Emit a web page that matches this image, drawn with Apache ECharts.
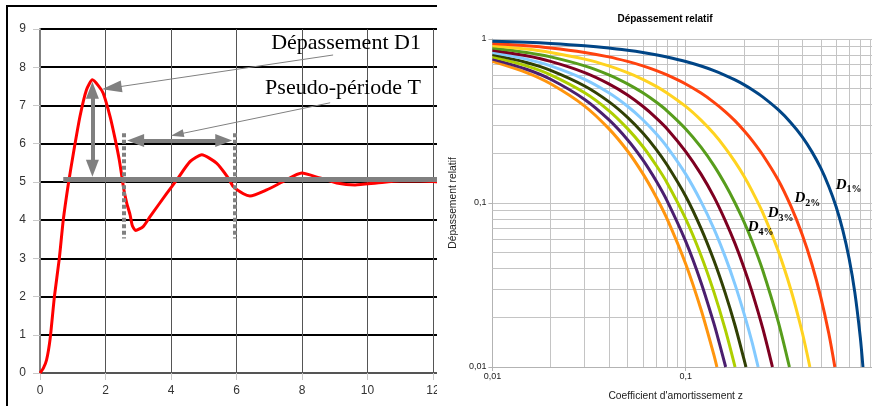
<!DOCTYPE html>
<html><head><meta charset="utf-8">
<script src="https://cdn.jsdelivr.net/npm/echarts@6/dist/echarts.min.js"></script>
<style>
html,body{margin:0;padding:0;background:#fff;width:872px;height:406px;overflow:hidden;position:relative}
#lw{position:absolute;left:0;top:0;width:437px;height:406px;overflow:hidden}
#rw{position:absolute;left:440px;top:0;width:432px;height:406px;overflow:hidden}
#left{width:520px;height:406px}
#right{width:450px;height:406px}
</style></head><body>
<div id="lw"><div id="left"></div></div>
<div id="rw"><div id="right"></div></div>
<script>
// ---------- Left chart data (step response) ----------
const respT = [0,0.1,0.2,0.31,0.44,0.59,0.71,0.87,1.02,1.22,1.42,1.6,1.78,1.93,2.14,2.29,2.42,2.5,2.56,2.65,2.75,2.82,2.92,3.15,3.36,3.87,4.19,4.58,4.94,5.39,5.75,5.9,6.21,6.41,6.92,7.43,7.99,8.55,9.06,9.62,10.28,10.99,11.6,12.2];
const respV = [0,0.12,0.34,0.9,2.0,3.0,4.0,4.97,5.75,6.71,7.41,7.67,7.52,7.32,6.71,6.14,5.58,5.14,4.8,4.44,4.14,3.85,3.73,3.83,4.09,4.70,5.07,5.53,5.71,5.49,5.10,4.88,4.69,4.63,4.79,5.01,5.23,5.10,4.97,4.92,4.97,5.02,5.02,5.0];
const finalLine = [[0.71,5.08],[14,5.08]];
const dottedLines = [[[2.56,6.27],[2.56,3.52]],[[5.95,6.27],[5.95,3.52]]];
const thickArrows = [[[1.6,7.40],[1.6,5.36]],[[2.92,6.08],[5.61,6.08]]];
const thinArrow1 = [[8.95,8.32],[2.19,7.46]];
const thinArrow2 = [[8.86,7.07],[4.19,6.24]];
const textD1 = {text:'Dépassement D1', at:[11.63,8.63]};
const textT = {text:'Pseudo-période T', at:[11.63,7.46]};

// ---------- Right chart data (relative overshoot) ----------
const d1 = [[0.01,0.969],[0.015,0.954],[0.02,0.939],[0.03,0.910],[0.04,0.882],[0.05,0.854],[0.06,0.828],[0.07,0.802],[0.08,0.777],[0.1,0.729],[0.12,0.684],[0.14,0.641],[0.16,0.601],[0.18,0.563],[0.2,0.527],[0.22,0.492],[0.25,0.444],[0.3,0.372],[0.35,0.309],[0.4,0.254],[0.45,0.205],[0.5,0.163],[0.55,0.126],[0.6,0.0948],[0.65,0.0681],[0.7,0.046],[0.75,0.0284],[0.8,0.0152],[0.826,0.01]];
const d2 = [[0.01,0.939],[0.015,0.910],[0.02,0.882],[0.03,0.828],[0.04,0.778],[0.05,0.730],[0.06,0.686],[0.07,0.644],[0.08,0.604],[0.1,0.532],[0.12,0.468],[0.14,0.411],[0.16,0.361],[0.18,0.317],[0.2,0.277],[0.22,0.242],[0.25,0.197],[0.3,0.139],[0.35,0.0956],[0.4,0.0644],[0.45,0.0422],[0.5,0.0266],[0.55,0.016],[0.591,0.01]];
const d3 = [[0.01,0.910],[0.015,0.868],[0.02,0.828],[0.03,0.754],[0.04,0.686],[0.05,0.624],[0.06,0.568],[0.07,0.516],[0.08,0.469],[0.1,0.388],[0.12,0.320],[0.14,0.264],[0.16,0.217],[0.18,0.178],[0.2,0.146],[0.22,0.119],[0.25,0.0877],[0.3,0.0516],[0.35,0.0296],[0.4,0.0164],[0.439,0.01]];
const d4 = [[0.01,0.882],[0.015,0.828],[0.02,0.778],[0.03,0.686],[0.04,0.605],[0.05,0.533],[0.06,0.470],[0.07,0.414],[0.08,0.365],[0.1,0.283],[0.12,0.219],[0.14,0.169],[0.16,0.130],[0.18,0.100],[0.2,0.0769],[0.22,0.0588],[0.25,0.039],[0.3,0.0192],[0.344,0.01]];
const d5 = [[0.01,0.855],[0.015,0.790],[0.02,0.730],[0.03,0.624],[0.04,0.533],[0.05,0.456],[0.06,0.389],[0.07,0.332],[0.08,0.284],[0.1,0.206],[0.12,0.150],[0.14,0.109],[0.16,0.0784],[0.18,0.0565],[0.2,0.0405],[0.22,0.0289],[0.25,0.0173],[0.281,0.01]];
const d6 = [[0.01,0.828],[0.015,0.754],[0.02,0.686],[0.03,0.568],[0.04,0.470],[0.05,0.389],[0.06,0.322],[0.07,0.266],[0.08,0.220],[0.1,0.150],[0.12,0.102],[0.14,0.0696],[0.16,0.0471],[0.18,0.0318],[0.2,0.0213],[0.22,0.0143],[0.237,0.01]];
const d7 = [[0.01,0.803],[0.015,0.719],[0.02,0.644],[0.03,0.517],[0.04,0.415],[0.05,0.333],[0.06,0.267],[0.07,0.214],[0.08,0.171],[0.1,0.110],[0.12,0.0701],[0.14,0.0446],[0.16,0.0283],[0.18,0.0179],[0.2,0.0112],[0.205,0.01]];
const d8 = [[0.01,0.778],[0.015,0.686],[0.02,0.605],[0.03,0.470],[0.04,0.366],[0.05,0.284],[0.06,0.221],[0.07,0.171],[0.08,0.133],[0.1,0.080],[0.12,0.0479],[0.14,0.0286],[0.16,0.0170],[0.18,0.01]];
const d9 = [[0.01,0.754],[0.015,0.654],[0.02,0.568],[0.03,0.428],[0.04,0.322],[0.05,0.243],[0.06,0.183],[0.07,0.1375],[0.08,0.1034],[0.1,0.0583],[0.12,0.0328],[0.14,0.0184],[0.15,0.0137],[0.161,0.01]];
const d10 = [[0.01,0.730],[0.015,0.624],[0.02,0.533],[0.03,0.390],[0.04,0.284],[0.05,0.2075],[0.06,0.151],[0.07,0.110],[0.08,0.0803],[0.1,0.0425],[0.12,0.0224],[0.14,0.0118],[0.145,0.01]];
const curves = [d1,d2,d3,d4,d5,d6,d7,d8,d9,d10];
const curveColors = ['#004586','#ff420e','#ffd320','#579d1c','#7e0021','#83caff','#314004','#aecf00','#4b1f6f','#ff950e'];
const minorTicks = [0.02,0.03,0.04,0.05,0.06,0.07,0.08,0.09,0.2,0.3,0.4,0.5,0.6,0.7,0.8,0.9];
const curveLabels = [
  {k:'1%', at:[0.696,0.129]},
  {k:'2%', at:[0.426,0.107]},
  {k:'3%', at:[0.310,0.0869]},
  {k:'4%', at:[0.244,0.0714]}
];

// ---------- Left chart ----------
const L = echarts.init(document.getElementById('left'));
const gray = '#808080';
L.setOption({
  animation:false,
  grid:{left:40, top:29, width:458.5, height:344},
  xAxis:{type:'value', min:0, max:14, interval:2,
    axisLine:{lineStyle:{color:'#555', width:2}},
    axisTick:{show:true, length:7, lineStyle:{color:'#c8c8c8', width:1}},
    axisLabel:{margin:12, fontSize:12, color:'#333', fontFamily:'Liberation Sans'},
    splitLine:{show:true, lineStyle:{color:'#555', width:1}}},
  yAxis:{type:'value', min:0, max:9, interval:1,
    axisLine:{show:true, lineStyle:{color:gray, width:2}},
    axisTick:{show:true, length:7, lineStyle:{color:'#c8c8c8', width:1}},
    axisLabel:{margin:14, fontSize:12, color:'#333', fontFamily:'Liberation Sans'},
    splitLine:{show:true, lineStyle:{color:'#000', width:2}}},
  series:[
    {type:'line', z:2, data: respT.map((t,i)=>[t,respV[i]]), smooth:0.2, symbol:'none',
     lineStyle:{color:'#ff0000', width:3}},
    {type:'lines', coordinateSystem:'cartesian2d', z:3, silent:true, symbol:'none',
     lineStyle:{color:gray, width:5, opacity:1},
     data:[{coords:finalLine}]},
    {type:'lines', coordinateSystem:'cartesian2d', z:4, silent:true, symbol:'none',
     lineStyle:{color:gray, width:4, type:[4,2.5], opacity:1},
     data: dottedLines.map(c=>({coords:c}))},
    {type:'lines', coordinateSystem:'cartesian2d', z:4, silent:true,
     symbol:['triangle','triangle'], symbolSize:[[13,17],[13,17]],
     lineStyle:{color:gray, width:4, opacity:1},
     data: thickArrows.map(c=>({coords:c}))},
    {type:'lines', coordinateSystem:'cartesian2d', z:4, silent:true,
     symbol:['none','triangle'], symbolSize:[[1,1],[12,20]],
     lineStyle:{color:gray, width:1, opacity:1},
     data:[{coords:thinArrow1}]},
    {type:'lines', coordinateSystem:'cartesian2d', z:4, silent:true,
     symbol:['none','triangle'], symbolSize:[[1,1],[8,13]],
     lineStyle:{color:gray, width:1, opacity:1},
     data:[{coords:thinArrow2}]}
  ]
});
function leftText(o){
  const p = L.convertToPixel({gridIndex:0}, o.at);
  return {type:'text', x:p[0], y:p[1], z:20, silent:true,
    style:{text:o.text, fill:'#000', fontSize:22, fontFamily:'"Liberation Serif", "Times New Roman", serif',
      align:'right', textAlign:'right', verticalAlign:'middle', textVerticalAlign:'middle'}};
}
L.setOption({graphic:[
  {type:'rect', silent:true, z:20, shape:{x:7, y:6, width:1000, height:1000},
   style:{fill:'none', stroke:'#000', lineWidth:2}},
  leftText(textD1), leftText(textT)
]});

// ---------- Right chart ----------
const R = echarts.init(document.getElementById('right'));
const fmt = v => String(+(+v).toPrecision(2)).replace('.', ',');
const axisFont = 'Liberation Sans';
const series = [];
series.push({type:'lines', coordinateSystem:'cartesian2d', z:1, silent:true, symbol:'none',
  lineStyle:{color:'#c4c4c4', width:1, opacity:1},
  data: minorTicks.map(z=>({coords:[[z,0.01],[z,1]]})).concat(minorTicks.map(v=>({coords:[[0.01,v],[1,v]]})))});
curves.forEach((c,i)=>{
  series.push({type:'line', z:3+ (curves.length-i)*0.01, data:c, smooth:0.3, symbol:'none',
    lineStyle:{color:curveColors[i], width:3}});
});
R.setOption({
  animation:false,
  title:{text:'Dépassement relatif', left:'center', top:9,
    textStyle:{fontSize:10, fontWeight:'bold', color:'#000', fontFamily:axisFont}},
  grid:{left:51, top:39, width:388, height:328},
  xAxis:{type:'log', logBase:10, min:0.01, max:1,
    name:"Coefficient d'amortissement z", nameLocation:'middle', nameGap:24,
    nameTextStyle:{fontSize:10.3, color:'#222', fontFamily:axisFont, padding:[0,20,0,0]},
    axisLine:{lineStyle:{color:'#b3b3b3', width:1}},
    axisTick:{show:true, length:4, lineStyle:{color:'#b3b3b3'}},
    axisLabel:{fontSize:9, color:'#222', margin:5, fontFamily:axisFont, formatter:fmt},
    splitLine:{show:true, lineStyle:{color:'#c4c4c4', width:1}}},
  yAxis:{type:'log', logBase:10, min:0.01, max:1,
    name:'Dépassement relatif', nameLocation:'middle', nameGap:32,
    nameTextStyle:{fontSize:10.3, color:'#222', fontFamily:axisFont},
    axisLine:{show:true, lineStyle:{color:'#b3b3b3', width:1}},
    axisTick:{show:true, length:4, lineStyle:{color:'#b3b3b3'}},
    axisLabel:{fontSize:9, color:'#222', margin:6, fontFamily:axisFont, formatter:fmt},
    splitLine:{show:true, lineStyle:{color:'#c4c4c4', width:1}}},
  series: series
});
const serif = '"Liberation Serif", "Times New Roman", serif';
R.setOption({graphic: curveLabels.map(o=>{
  const p = R.convertToPixel({xAxisIndex:0, yAxisIndex:0}, o.at);
  return {type:'text', x:p[0], y:p[1], z:20, silent:true,
    style:{text:'{d|D}{s|'+o.k+'}', align:'center', textAlign:'center', verticalAlign:'middle', textVerticalAlign:'middle',
      rich:{
        d:{fontFamily:serif, fontStyle:'italic', fontWeight:'bold', fontSize:15, lineHeight:20, fill:'#000', verticalAlign:'middle'},
        s:{fontFamily:serif, fontWeight:'bold', fontSize:10, lineHeight:8, fill:'#000', verticalAlign:'bottom'}
      }}};
})});
</script></body></html>
